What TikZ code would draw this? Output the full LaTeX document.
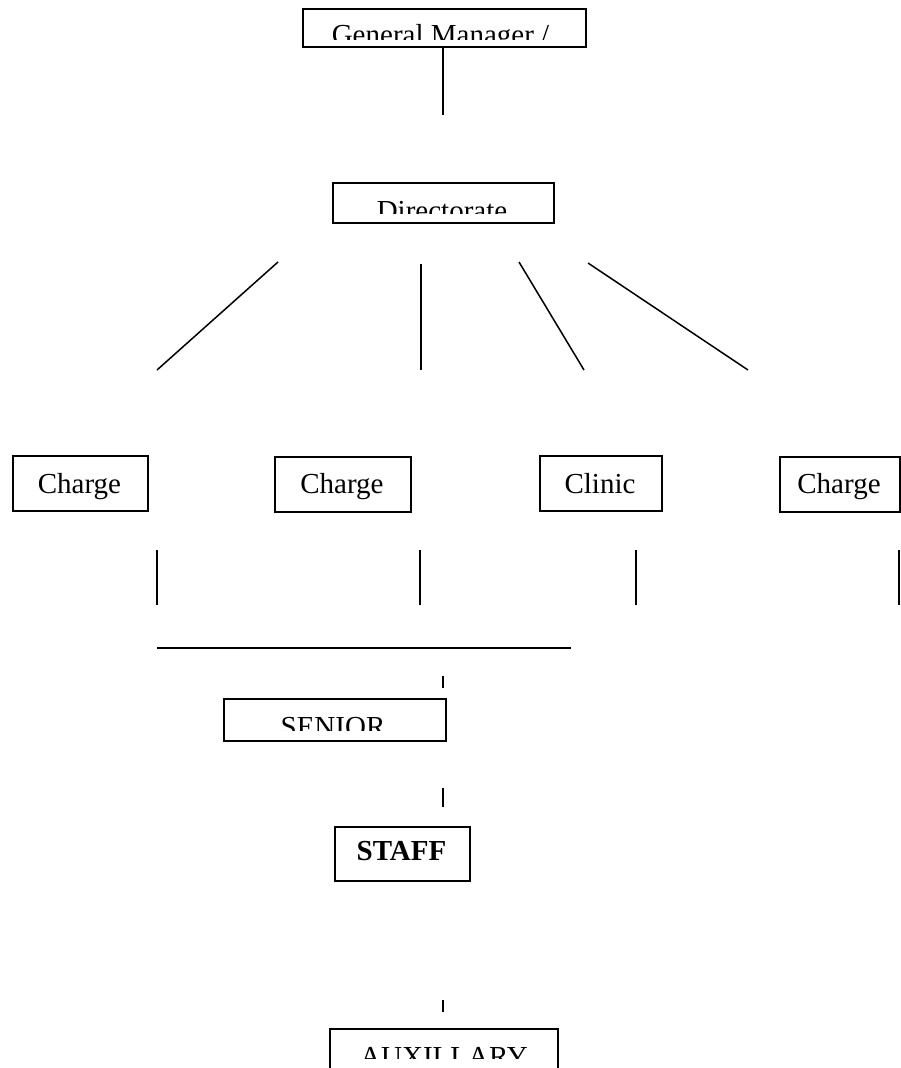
\documentclass[tikz,border=0pt]{standalone}
\usepackage{fontspec}
\setmainfont{Liberation Serif}
\begin{document}
\begin{tikzpicture}[x=1pt,y=-1pt,
  box/.style={draw=black,line width=1.5pt,anchor=north west,inner sep=0pt},
  conn/.style={draw=black,line width=1.5pt},
  lbl/.style={anchor=base,inner sep=0pt,font=\fontsize{29}{35}\selectfont}]
\useasboundingbox (0,0) rectangle (901,1068);
\clip (0,0) rectangle (901,1068);
% boxes
\node[box,minimum width=283pt,minimum height=38pt] (gm) at (302,8) {};
\node[box,minimum width=221pt,minimum height=40pt] (dir) at (332,182) {};
\node[box,minimum width=135pt,minimum height=55pt] (c1) at (12,455) {};
\node[box,minimum width=136pt,minimum height=55pt] (c2) at (274,456) {};
\node[box,minimum width=122pt,minimum height=55pt] (cl) at (539,455) {};
\node[box,minimum width=120pt,minimum height=55pt] (c4) at (779,456) {};
\node[box,minimum width=222pt,minimum height=42pt] (sen) at (223,698) {};
\node[box,minimum width=135pt,minimum height=54pt] (stf) at (334,826) {};
\node[box,minimum width=228pt,minimum height=60pt] (aux) at (329,1028) {};
% clipped labels
\begin{scope}\clip (302,8) rectangle (585,39);
\node[lbl] (gmt) at (440.5,44) {General Manager /};\end{scope}
\begin{scope}\clip (332,182) rectangle (553,213);
\node[lbl] (dirt) at (442,220) {Directorate};\end{scope}
\begin{scope}\clip (223,698) rectangle (445,730);
\node[lbl] (sent) at (333,736) {SENIOR};\end{scope}
\begin{scope}\clip (329,1028) rectangle (557,1058);
\node[lbl] (auxt) at (444,1066) {AUXILLARY};\end{scope}
\node[lbl] (c1t) at (79.5,493) {Charge};
\node[lbl] (c2t) at (342,493) {Charge};
\node[lbl] (clt) at (600,493) {Clinic};
\node[lbl] (c4t) at (839,493) {Charge};
\node[lbl,font=\fontsize{29}{35}\selectfont\bfseries] (stft) at (401.5,860) {STAFF};
% connector end points
\coordinate (a1) at (443,46); \coordinate (a2) at (443,115);
\coordinate (d1s) at (278,262); \coordinate (d1e) at (157,370);
\coordinate (d2s) at (421,264); \coordinate (d2e) at (421,370);
\coordinate (d3s) at (519,262); \coordinate (d3e) at (584,370);
\coordinate (d4s) at (588,263); \coordinate (d4e) at (748,370);
\coordinate (v1s) at (157,550); \coordinate (v1e) at (157,605);
\coordinate (v2s) at (420,550); \coordinate (v2e) at (420,605);
\coordinate (v3s) at (636,550); \coordinate (v3e) at (636,605);
\coordinate (v4s) at (899,550); \coordinate (v4e) at (899,605);
\coordinate (hs) at (157,648); \coordinate (he) at (571,648);
\coordinate (t1s) at (443,676); \coordinate (t1e) at (443,688);
\coordinate (t2s) at (443,788); \coordinate (t2e) at (443,807);
\coordinate (t3s) at (443,1000); \coordinate (t3e) at (443,1012);
\draw[conn] (a1) -- (a2);
\draw[conn] (d1s) -- (d1e);
\draw[conn] (d2s) -- (d2e);
\draw[conn] (d3s) -- (d3e);
\draw[conn] (d4s) -- (d4e);
\draw[conn] (v1s) -- (v1e);
\draw[conn] (v2s) -- (v2e);
\draw[conn] (v3s) -- (v3e);
\draw[conn] (v4s) -- (v4e);
\draw[conn] (hs) -- (he);
\draw[conn] (t1s) -- (t1e);
\draw[conn] (t2s) -- (t2e);
\draw[conn] (t3s) -- (t3e);
\end{tikzpicture}
\end{document}
